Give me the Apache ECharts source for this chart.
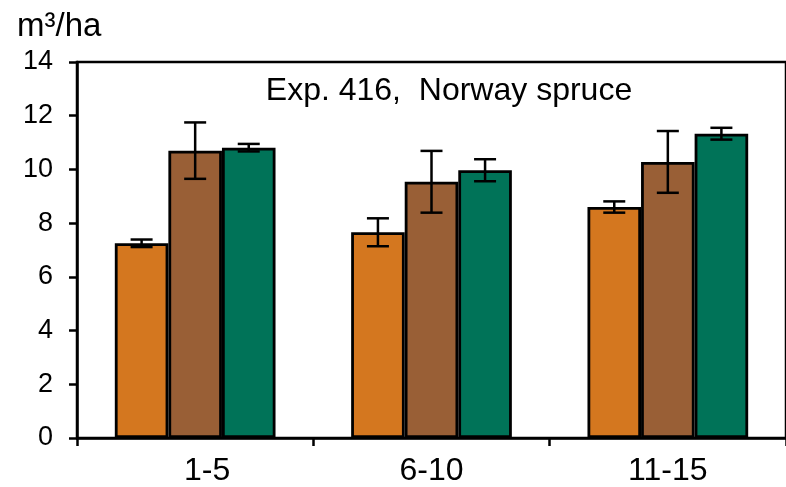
<!DOCTYPE html>
<html>
<head>
<meta charset="utf-8">
<script src="https://cdn.jsdelivr.net/npm/echarts@6/dist/echarts.min.js"></script>
<style>
  html, body { margin: 0; padding: 0; background: #fff; }
  #chart { width: 786px; height: 487px; }
</style>
</head>
<body>
<div id="chart"></div>
<script>
// Stand age classes (years)
const categories = ['1-5', '6-10', '11-15'];

// Mean annual volume increment per treatment (m³/ha)
const seriesA = [7.25, 7.66, 8.60];
const seriesB = [10.70, 9.54, 10.28];
const seriesC = [10.81, 9.97, 11.33];

// Half-width of the error bars
const errA = [0.14, 0.52, 0.21];
const errB = [1.05, 1.15, 1.15];
const errC = [0.14, 0.41, 0.22];

const yTicks = { min: 0, max: 14, step: 2 };

const colors = ['#D4771F', '#995F36', '#007358'];
const values = [seriesA, seriesB, seriesC];
const errors = [errA, errB, errC];

const FONT = 'Liberation Sans, Arial, sans-serif';
const CAT_GAP = 0.32;

const chart = echarts.init(document.getElementById('chart'), null, { renderer: 'canvas' });

function barSeries(i) {
  return {
    type: 'bar',
    data: values[i],
    barGap: '0%',
    barCategoryGap: (CAT_GAP * 100) + '%',
    itemStyle: { color: colors[i], borderColor: '#000', borderWidth: 2.8 },
    emphasis: { disabled: true },
    z: 2
  };
}

function errorSeries(i) {
  const data = categories.map((c, k) => [k, values[i][k] - errors[i][k], values[i][k] + errors[i][k]]);
  return {
    type: 'custom',
    data: data,
    z: 5,
    renderItem: function (params, api) {
      const k = api.value(0);
      const lo = api.coord([k, api.value(1)]);
      const hi = api.coord([k, api.value(2)]);
      const catW = api.size([1, 0])[0];
      const barW = catW * (1 - CAT_GAP) / 3;
      const x = lo[0] + (i - 1) * barW;
      const cap = 11;
      const style = { stroke: '#000', lineWidth: 2.5 };
      return {
        type: 'group',
        children: [
          { type: 'line', shape: { x1: x, y1: lo[1], x2: x, y2: hi[1] }, style: style },
          { type: 'line', shape: { x1: x - cap, y1: lo[1], x2: x + cap, y2: lo[1] }, style: style },
          { type: 'line', shape: { x1: x - cap, y1: hi[1], x2: x + cap, y2: hi[1] }, style: style }
        ]
      };
    }
  };
}

chart.setOption({
  animation: false,
  backgroundColor: '#fff',
  textStyle: { fontFamily: FONT },
  grid: {
    left: 77, top: 62, right: -7, bottom: 49,
    show: true, borderColor: '#000', borderWidth: 2.5, backgroundColor: 'transparent'
  },
  graphic: [
    {
      type: 'text', x: 449, y: 91, z: 10,
      style: {
        text: 'Exp. 416,  Norway spruce',
        font: '32px ' + FONT, fill: '#000',
        align: 'center', verticalAlign: 'middle'
      }
    },
    {
      type: 'text', x: 17, y: 27, z: 10,
      style: {
        text: 'm³/ha',
        font: '33px ' + FONT, fill: '#000',
        align: 'left', verticalAlign: 'middle'
      }
    }
  ],
  xAxis: {
    type: 'category',
    data: categories,
    axisLine: { lineStyle: { color: '#000', width: 2.5 } },
    axisTick: { show: true, length: 8, lineStyle: { color: '#000', width: 2.5 } },
    axisLabel: {
      color: '#000', fontSize: 32, margin: 17, fontFamily: FONT,
      formatter: function (v, idx) { return idx === 0 ? '{first|' + v + '}' : v; },
      rich: { first: { fontSize: 32, fontFamily: FONT, color: '#000', padding: [0, 0, 0, 24] } }
    },
    splitLine: { show: false }
  },
  yAxis: {
    type: 'value',
    min: yTicks.min, max: yTicks.max, interval: yTicks.step,
    axisLine: { show: true, lineStyle: { color: '#000', width: 2.5 } },
    axisTick: { show: true, length: 8, lineStyle: { color: '#000', width: 2.5 } },
    axisLabel: { color: '#000', fontSize: 27, margin: 24, fontFamily: FONT },
    splitLine: { show: false }
  },
  series: [
    barSeries(0), barSeries(1), barSeries(2),
    errorSeries(0), errorSeries(1), errorSeries(2)
  ]
});
</script>
</body>
</html>
